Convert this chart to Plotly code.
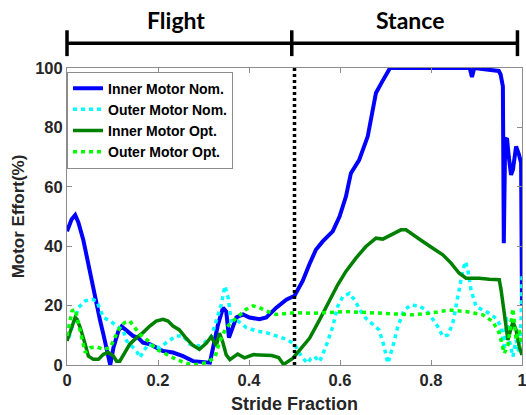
import plotly.graph_objects as go

# ---------------- data ----------------
inner_nom_x = [0, 0.01, 0.018, 0.025, 0.036, 0.047, 0.058, 0.065, 0.073, 0.08, 0.091, 0.095,
               0.102, 0.113, 0.12, 0.131, 0.145, 0.156, 0.167, 0.182, 0.196, 0.211, 0.233, 0.255,
               0.277, 0.3, 0.314, 0.321, 0.332, 0.343, 0.35, 0.356, 0.361, 0.372, 0.387, 0.401,
               0.423, 0.438, 0.46, 0.482, 0.5, 0.518, 0.533, 0.547, 0.562, 0.584, 0.599, 0.613,
               0.624, 0.642, 0.661, 0.668, 0.679, 0.693, 0.71, 0.8, 0.885, 0.89, 0.895, 0.949,
               0.953, 0.958, 0.96, 0.963, 0.967, 0.971, 0.976, 0.98, 0.987, 0.993, 0.998, 1.0]
inner_nom_y = [45, 49, 50.5, 48, 42, 34, 25, 19.3, 14.8, 10.3, 3.6, 0,
               5.8, 11.5, 13, 11.5, 9.8, 9.2, 7.5, 7, 5.8, 4.7, 4.2, 3,
               1.3, 1, 0.8, 5.8, 13.7, 19.3, 18, 9.2, 11.5, 16, 17, 16,
               15.4, 16, 19.3, 22, 23.3, 28.3, 34, 38.8, 41.6, 45, 50, 56.7,
               64.6, 69, 77, 82.6, 91.6, 95.5, 100, 100, 100, 97, 100, 99,
               97.8, 93.8, 41, 75.8, 76.4, 70, 64, 65.7, 73.6, 71, 68, 20]

outer_nom_x = [0.004, 0.015, 0.025, 0.04, 0.055, 0.065, 0.073, 0.08, 0.095, 0.113, 0.124, 0.131,
               0.142, 0.153, 0.16, 0.167, 0.178, 0.189, 0.204, 0.218, 0.24, 0.255, 0.27, 0.292,
               0.307, 0.318, 0.328, 0.339, 0.347, 0.354, 0.361, 0.376, 0.394, 0.416, 0.438, 0.46,
               0.482, 0.5, 0.511, 0.522, 0.529, 0.536, 0.544, 0.555, 0.569, 0.584, 0.595, 0.606,
               0.621, 0.632, 0.646, 0.657, 0.672, 0.686, 0.697, 0.705, 0.716, 0.727, 0.741, 0.756,
               0.774, 0.789, 0.8, 0.815, 0.826, 0.837, 0.848, 0.859, 0.87, 0.876, 0.881, 0.888,
               0.899, 0.914, 0.928, 0.943, 0.954, 0.961, 0.965, 0.972, 0.98, 0.987, 0.994, 0.998, 1.0]
outer_nom_y = [9.2, 14.8, 19.3, 21.6, 22.1, 21.6, 18.2, 16, 14.8, 12.6, 11.5, 8.1,
               6.4, 4.7, 2.5, 4.2, 7, 6.4, 5.8, 7.5, 9.8, 9.8, 7, 6.4,
               8.1, 9.8, 14.8, 20.4, 26.6, 22.7, 14.8, 14.8, 12.6, 11.5, 10.9, 9.8,
               8.7, 7, 3.9, 1.7, 0.6, 2.2, 2.8, 1.1, 6.2, 12.9, 19.7, 23,
               24.2, 21.9, 18, 15.7, 13.5, 11.8, 6.2, 0.6, 6.2, 12.9, 18.5, 20.2,
               19.9, 18.5, 16.3, 12.9, 9.6, 10.1, 14, 23, 32, 34.8, 32, 25.3,
               19.7, 18.5, 17.4, 15.7, 12.9, 5, 16.3, 8.4, 2.8, 8.4, 3.9, 15, 30]

inner_opt_x = [0, 0.007, 0.018, 0.022, 0.029, 0.04, 0.047, 0.058, 0.069, 0.08, 0.091, 0.102,
               0.109, 0.116, 0.127, 0.138, 0.153, 0.167, 0.182, 0.196, 0.211, 0.222, 0.233, 0.247,
               0.262, 0.276, 0.291, 0.306, 0.317, 0.328, 0.335, 0.342, 0.35, 0.358, 0.375, 0.39,
               0.41, 0.43, 0.45, 0.465, 0.476, 0.496, 0.511, 0.533, 0.555, 0.577, 0.595, 0.613,
               0.635, 0.657, 0.679, 0.694, 0.712, 0.734, 0.745, 0.76, 0.782, 0.804, 0.826, 0.844,
               0.862, 0.877, 0.906, 0.928, 0.95, 0.954, 0.961, 0.969, 0.98, 0.987, 0.994, 1.0]
inner_opt_y = [8.1, 11.5, 16, 15.4, 12.6, 7, 3, 1.9, 1.9, 3.6, 4.2, 3,
               1.3, 1.3, 4.2, 7, 9.2, 10.9, 13.1, 14.8, 15.4, 14.8, 13.1, 11.8,
               9, 6.7, 5.3, 7.3, 9.5, 6.5, 10.7, 7.9, 3.4, 1.8, 3.7, 2.4,
               3.5, 3.4, 3.2, 2.5, 0.2, 2.2, 5, 9, 15.2, 21.9, 27, 31.5,
               36, 39.9, 42.7, 42.4, 43.8, 45.5, 45.5, 43.8, 41.6, 39.3, 37.1, 34.3,
               30.9, 29.2, 29.2, 28.9, 28.7, 25.3, 17.4, 8.4, 14.6, 11.8, 6.2, 3.4]

outer_opt_x = [0, 0.011, 0.018, 0.025, 0.033, 0.04, 0.051, 0.065, 0.08, 0.095, 0.105, 0.116,
               0.127, 0.138, 0.149, 0.16, 0.171, 0.182, 0.196, 0.211, 0.225, 0.24, 0.258, 0.277,
               0.307, 0.325, 0.336, 0.35, 0.365, 0.38, 0.394, 0.409, 0.423, 0.438, 0.46, 0.5,
               0.54, 0.613, 0.686, 0.76, 0.796, 0.84, 0.877, 0.914, 0.936, 0.95, 0.961, 0.969,
               0.98, 0.987, 0.994, 1.0]
outer_opt_y = [9.8, 18.2, 18.8, 13.7, 8.1, 4.2, 5.8, 6.1, 5.3, 5.8, 9.2, 12.6,
               14.3, 14.8, 12.6, 10.3, 9.2, 7.5, 5.3, 4.2, 3, 1.9, 0.8, 0,
               0.8, 2.5, 8.1, 12.6, 14.8, 17, 18.8, 19.9, 19.3, 18.2, 17, 17.6,
               17.4, 18, 17.4, 16.9, 17.4, 18.5, 18, 16.9, 14.6, 10.7, 3.9, 6.7,
               19, 8.4, 11.8, 6.2]

series_names = ["Inner Motor Nom.", "Outer Motor Nom.", "Inner Motor Opt.", "Outer Motor Opt."]
x_ticks = [0, 0.2, 0.4, 0.6, 0.8, 1]
x_tick_labels = ["0", "0.2", "0.4", "0.6", "0.8", "1"]
y_ticks = [0, 20, 40, 60, 80, 100]
phase_names = ["Flight", "Stance"]
phase_bounds = [0, 0.5, 1]

# ---------------- figure ----------------
FONT = "Liberation Sans, Arial, sans-serif"
fig = go.Figure()

styles = [
    dict(color="#0000FF", width=4, dash="solid"),
    dict(color="#00FFFF", width=3.5, dash="4px,4px"),
    dict(color="#008000", width=3.5, dash="solid"),
    dict(color="#00FF00", width=3.5, dash="4px,4px"),
]
data = [(inner_nom_x, inner_nom_y), (outer_nom_x, outer_nom_y),
        (inner_opt_x, inner_opt_y), (outer_opt_x, outer_opt_y)]
for name, (xs, ys), st in zip(series_names, data, styles):
    fig.add_trace(go.Scatter(x=xs, y=ys, mode="lines", name=name, line=st))

# phase boundary dotted line at stance start
fig.add_shape(type="line", xref="x", yref="y", x0=phase_bounds[1], x1=phase_bounds[1],
              y0=y_ticks[0], y1=y_ticks[-1], layer="above",
              line=dict(color="black", width=3.5, dash="3px,3px"))

# phase bracket above the plot
br_y, tick_lo, tick_hi = 1.083, 1.04, 1.127
bx = [0.0, 0.494, 0.99]
fig.add_shape(type="line", xref="paper", yref="paper", x0=bx[0], x1=bx[-1],
              y0=br_y, y1=br_y, line=dict(color="black", width=3.5))
for b in bx:
    fig.add_shape(type="line", xref="paper", yref="paper", x0=b, x1=b,
                  y0=tick_lo, y1=tick_hi, line=dict(color="black", width=3.5))
label_x = [0.24, 0.753]
for name, lx in zip(phase_names, label_x):
    fig.add_annotation(x=lx, y=1.162, xref="paper", yref="paper",
                       text=name, showarrow=False, xanchor="center", yanchor="middle",
                       font=dict(family="Lato, sans-serif", size=23, color="black",
                                 weight="bold"))

axis_common = dict(showgrid=False, zeroline=False, showline=True, linecolor="#8c8c8c",
                   linewidth=1, mirror="ticks", ticks="inside", ticklen=5,
                   tickcolor="#8c8c8c", ticklabeloverflow="allow", automargin=False,
                   tickfont=dict(family=FONT, size=16.5, color="#262626", weight="bold"))

fig.update_xaxes(range=[0, 1], tickvals=x_ticks, ticktext=x_tick_labels,
                 title=dict(text="Stride Fraction", standoff=9,
                            font=dict(family=FONT, size=18, color="#262626", weight="bold")),
                 **axis_common)
fig.update_yaxes(range=[0, 100], tickvals=y_ticks,
                 title=dict(text="Motor Effort(%)", standoff=6,
                            font=dict(family=FONT, size=17, color="#262626", weight="bold")),
                 **axis_common)

fig.update_layout(
    width=526, height=415,
    margin=dict(l=67, r=4, t=68, b=50),
    plot_bgcolor="white", paper_bgcolor="white",
    showlegend=True,
    legend=dict(x=0.0, y=0.988, xanchor="left", yanchor="top",
                bgcolor="white", bordercolor="#8c8c8c", borderwidth=1,
                font=dict(family=FONT, size=14, color="black", weight="bold"),
                tracegroupgap=0, itemwidth=30),
)

fig.write_html("out.html")
